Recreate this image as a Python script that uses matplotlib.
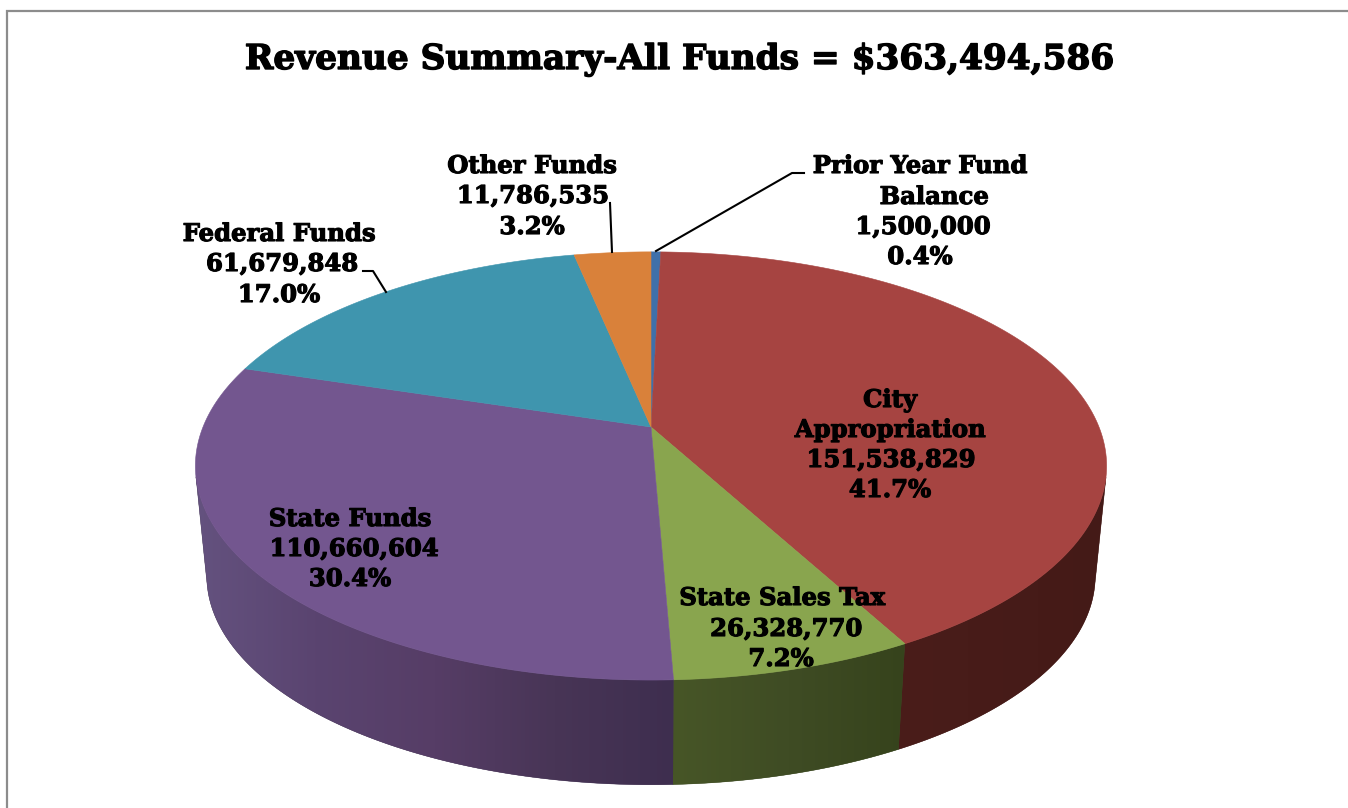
import numpy as np
import matplotlib
matplotlib.use("Agg")
import matplotlib.pyplot as plt
import matplotlib.patheffects as pe
from matplotlib.patches import Polygon
from matplotlib.colors import to_rgb, LinearSegmentedColormap

# ---- data ----
categories = ["Prior Year Fund\nBalance", "City\nAppropriation", "State Sales Tax",
              "State Funds", "Federal Funds", "Other Funds"]
values = [1500000, 151538829, 26328770, 110660604, 61679848, 11786535]
percents = ["0.4%", "41.7%", "7.2%", "30.4%", "17.0%", "3.2%"]
title = "Revenue Summary-All Funds = $363,494,586"

top_colors = ["#3f70aa", "#a64441", "#89a54e", "#73568f", "#3f95ae", "#d9813a"]
side_colors = [
    ["#2c4e78", "#2c4e78"],
    ["#4a1d1a", "#441a17"],
    ["#475627", "#3f4c24", "#36431c"],
    ["#64527f", "#5a4470", "#563d66", "#483556", "#3e2e4f"],
    ["#2a6375", "#2a6375"],
    ["#8f5526", "#8f5526"],
]

# per-line x centres and baselines of each label
label_x = [[920, 934, 923, 920], [890, 890, 891, 890], [782, 786, 781],
           [350, 354, 350], [279, 282, 279], [532, 533, 532]]
label_y = [[173, 204, 234, 264], [407, 437, 467, 497], [605, 636, 666],
           [526, 556, 586], [241, 271, 302], [173, 203, 234]]

W, H = 1348, 808
CX, CY, A, B, K = 651, 427, 448, 207, 0.182
CY2, SCALE = 538, 0.975

fig = plt.figure(figsize=(W / 100, H / 100), dpi=100, facecolor="white")
ax = fig.add_axes([0, 0, 1, 1])


def project(theta, cy=CY, scale=1.0):
    u, v = np.sin(theta), np.cos(theta)
    w = 1 + K * v
    return CX + scale * A * u / w, cy - scale * B * v / w


edges = np.cumsum([0] + values) / np.sum(values) * 2 * np.pi

# sides: a horizontal gradient clipped to the visible part of each slice's wall
for i in range(len(values)):
    th = np.linspace(edges[i], edges[i + 1], 600)
    x1, y1 = project(th)
    x2, y2 = project(th, CY2, SCALE)
    # keep only the front-facing part, up to the silhouette generators
    facing = (x2 - x1) * np.gradient(y1) - (y2 - y1) * np.gradient(x1) > 0
    if facing.sum() < 2:
        continue
    x1, y1, x2, y2 = x1[facing], y1[facing], x2[facing], y2[facing]
    pts = np.column_stack([np.r_[x1, x2[::-1]], np.r_[y1, y2[::-1]]])
    ax.add_patch(Polygon(pts, closed=True, fc=side_colors[i][-1], ec=side_colors[i][-1],
                         lw=0.3, zorder=2))
    cmap = LinearSegmentedColormap.from_list(f"side{i}", [to_rgb(c) for c in side_colors[i]])
    im = ax.imshow(np.linspace(0, 1, 256).reshape(1, -1), cmap=cmap, aspect="auto",
                   extent=(pts[:, 0].min() - 1, pts[:, 0].max() + 1,
                           pts[:, 1].max() + 1, pts[:, 1].min() - 1), zorder=2.1)
    im.set_clip_path(Polygon(pts, closed=True, transform=ax.transData))

# top face
for i in range(len(values)):
    th = np.linspace(edges[i], edges[i + 1], 200)
    x, y = project(th)
    pts = np.column_stack([np.r_[CX, x], np.r_[CY, y]])
    ax.add_patch(Polygon(pts, closed=True, fc=top_colors[i], ec=top_colors[i], lw=0.4, zorder=3))

ax.set_xlim(0, W)
ax.set_ylim(H, 0)
ax.axis("off")

# frame
ax.plot([W, 6.5, 6.5], [11, 11, H], color="#8c8c8c", lw=1.6, zorder=1, solid_joinstyle="miter")

# title
ax.text(679, 69, title, family="DejaVu Serif", weight="bold", fontsize=24.7,
        ha="center", va="baseline", color="black", zorder=5,
        path_effects=[pe.withStroke(linewidth=1.0, foreground="black")])

# labels
for name, val, pct, xs, ys in zip(categories, values, percents, label_x, label_y):
    for line, lx, ly in zip(f"{name}\n{val:,}\n{pct}".split("\n"), xs, ys):
        ax.text(lx, ly, line, family="DejaVu Serif", weight="bold",
                fontsize=17.5, ha="center", va="baseline", color="black", zorder=5,
                path_effects=[pe.withStroke(linewidth=0.8, foreground="black")])

# leader lines
ax.plot([656, 792, 804], [251, 173, 173], color="black", lw=1.5, zorder=4)
ax.plot([610, 612], [203, 252], color="black", lw=1.5, zorder=4)
ax.plot([363, 373, 386], [271, 271, 292], color="black", lw=1.5, zorder=4)

fig.savefig("out.png", dpi=100, facecolor="white")
